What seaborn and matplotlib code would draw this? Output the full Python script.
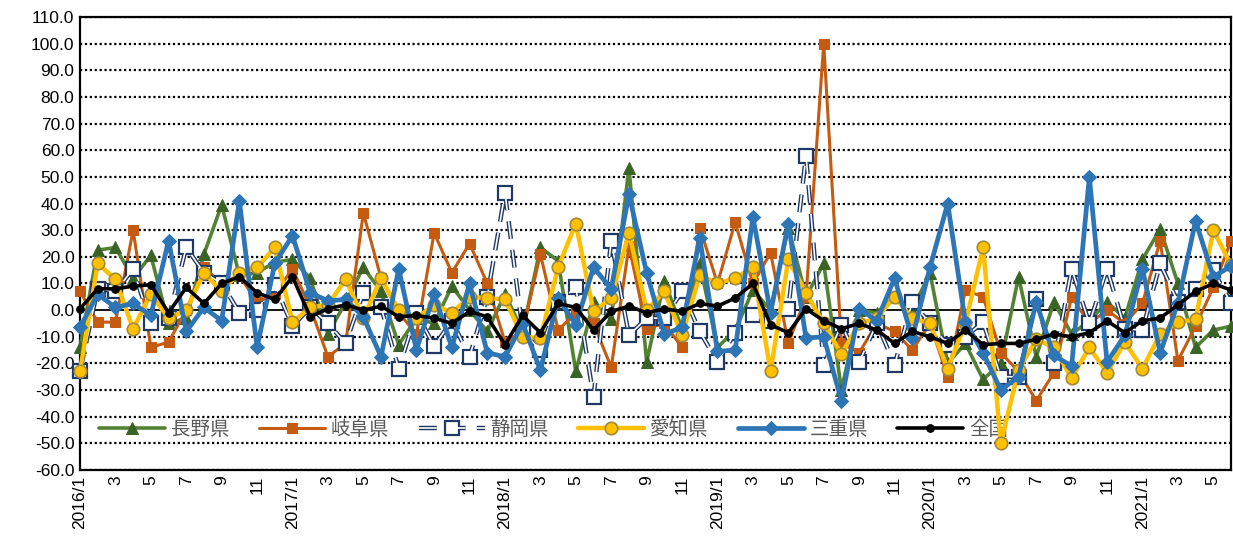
import matplotlib
matplotlib.use("Agg")
import matplotlib.pyplot as plt
from matplotlib.legend_handler import HandlerTuple
import seaborn as sns
import numpy as np
import pandas as pd

# 2016/1 .. 2021/6 (66 months)
months = [f"{2016 + i // 12}/{i % 12 + 1}" for i in range(66)]
tick_labels = [m if m.endswith("/1") else m.split("/")[1] for m in months]

nagano = [-14, 22.5, 23.5, 12, 20.5, -5, -3, 21, 39.5, 13, 14, 18,
          19, 12, -9, 3, 16, 7, -13, -3, -5, 9, 0, -8,
          6, -8, 23.5, 18.5, -23, 3, -3.5, 53.5, -19.5, 11, -7, 17.5,
          -14, -7.5, 7.5, 0, 31, 5, 17.5, -30, 0, -1, 5, 0,
          14, -20, -12.5, -26, -20, 12.5, -17.5, 3, -9, -4, 3, -3,
          19, 30.5, 10, -14, -7.5, -6]
gifu = [7, -4.5, -4.5, 30, -14, -12, 0, 16, 10, 13, 3, 6,
        15.5, 1, -17.5, -12.5, 36.5, 12, -1, -9, 29, 14, 25, 10,
        -12, -8, 21, -7.5, -1, -5, -21.5, 24, -7, -5, -14, 31,
        10, 33, 10, 21.5, -12.5, 5, 100, -12.5, -16, -5, -8, -15,
        -5, -25, 7.5, 5, -16, -23, -34, -23.5, 5, -5, 0, -5,
        2.5, 26, -19, -6, 8.5, 26]
shizuoka = [-23, 8, 7, 15.5, -5, -3, 23.5, 14, 10, -1, 0, 9.5,
            -6, 1, -5, -12.5, 6.5, 1, -22, -1, -13.5, -4, -17.5, 5,
            44, -8, -15, 3, 8.5, -32.5, 26, -9.5, -3, -3, 7, -8,
            -19.5, -8.5, -2, -4, 0.5, 58, -20.5, -5.5, -19.5, -5, -20.5, 3,
            -5, -13, -10, -4.5, -25, -25, 4, -20, 15.5, -5, 15.5, -7,
            -7.5, 17.5, 3, 8, 15, 2.5]
aichi = [-23, 17.5, 11.5, -7, 6, -3, 0, 14, 7, 14, 16, 23.5,
         -4.5, 1, 2, 11.5, -3, 12, 0, -3, 2, -1, 5, 4.5,
         4, -10, -10.5, 16, 32.5, -0.5, 4.5, 29, 0, 7, -9.5, 13,
         10, 12, 16, -23, 19, 6.5, -5, -16.5, -5, -3, 5, -3,
         -5, -22, -5, 23.5, -50, -22.5, -11, -14, -25.5, -14, -23.5, -12,
         -22, -9, -4.5, -3.5, 30, 17]
mie = [-6.5, 6, 1, 2.5, -2, 26, -8, 1, -4, 41, -14, 17.5,
       28, 6.5, 3.5, 4, -2.5, -17.5, 15.5, -15, 6, -14, 10, -16,
       -17.5, -5, -22.5, 4.5, -5.5, 16, 8, 43.5, 14, -9, -6.5, 27,
       -15.5, -15, 35, -1, 32.5, -10.5, -10, -34, 0.5, -4, 12, -10.5,
       16, 40, -4.5, -16, -30, -25, 3, -17, -21, 50, -19.5, -9.5,
       15.5, -16, 2.5, 33.5, 12.5, 16.5]
zenkoku = [0.5, 8, 8, 9, 9.5, -1, 8.5, 2.5, 10, 12.5, 6.5, 4,
           12.5, -2.5, 0.5, 2, 0, 1.5, -2.5, -2, -3, -5, -0.5, -2.5,
           -13, -2, -8.5, 2.5, 1, -7.5, -0.5, 1.5, -1, 0.5, -0.5, 2.5,
           1.5, 4.5, 10, -5.5, -8.5, 0.5, -4, -7, -5, -7.5, -12.5, -8,
           -10, -12.5, -7.5, -13, -12.5, -12.5, -11, -9, -10, -8.5, -4, -8.5,
           -4, -3, 2, 7, 10, 7.5]

df = pd.DataFrame({"idx": np.arange(len(months)), "month": months,
                   "長野県": nagano, "岐阜県": gifu, "静岡県": shizuoka,
                   "愛知県": aichi, "三重県": mie, "全国": zenkoku})

sns.set_theme(style="white")
plt.rcParams["font.family"] = ["Liberation Sans", "Noto Sans CJK JP", "DejaVu Sans"]

fig = plt.figure(figsize=(12.33, 5.47), dpi=100)
ax = fig.add_axes([80 / 1233, 1 - 470 / 547, 1151 / 1233, 453 / 547])

# gridlines and zero line
for v in range(-60, 111, 10):
    if v == 0:
        ax.axhline(0, color="black", lw=1.3, zorder=1)
    else:
        ax.axhline(v, color="black", lw=1.6, ls=(0, (1, 1.2)), zorder=1)

sns.lineplot(data=df, x="idx", y="長野県", ax=ax, color="#548235", lw=2.6,
             marker="^", markersize=9, markerfacecolor="#3B6326",
             markeredgecolor="#3B6326", label="長野県", clip_on=False, zorder=3)
sns.lineplot(data=df, x="idx", y="岐阜県", ax=ax, color="#C55A11", lw=2.2,
             marker="s", markersize=7, markerfacecolor="#C55A11",
             markeredgecolor="#C55A11", label="岐阜県", clip_on=False, zorder=4)
sns.lineplot(data=df, x="idx", y="静岡県", ax=ax, color="#1F3864", lw=3.2,
             linestyle=(0, (4, 2.5)), marker="s", markersize=10,
             markerfacecolor="white", markeredgecolor="#1F3864",
             markeredgewidth=1.6, label="静岡県", clip_on=False, zorder=5)
# white core inside the navy dashes
white_dash = (0, (4 * 3.2 / 1.2, 2.5 * 3.2 / 1.2))
ax.plot(df["idx"], df["静岡県"], color="white", lw=1.2, linestyle=white_dash,
        zorder=5.1, clip_on=False)
sns.lineplot(data=df, x="idx", y="愛知県", ax=ax, color="#FFC000", lw=3.2,
             marker="o", markersize=9, markerfacecolor="#FFC000",
             markeredgecolor="#A08A3C", markeredgewidth=1.2, label="愛知県",
             clip_on=False, zorder=6)
sns.lineplot(data=df, x="idx", y="三重県", ax=ax, color="#2E75B6", lw=3.4,
             marker="D", markersize=7, markerfacecolor="#2E75B6",
             markeredgecolor="#2E75B6", label="三重県", clip_on=False, zorder=7)
sns.lineplot(data=df, x="idx", y="全国", ax=ax, color="black", lw=2.6,
             marker="o", markersize=5.5, markerfacecolor="black",
             markeredgecolor="black", label="全国", clip_on=False, zorder=8)

ax.set_xlim(0, len(months) - 1)
ax.set_ylim(-60, 110)
ax.set_yticks(range(-60, 111, 10))
ax.set_yticklabels([f"{v:.1f}" for v in range(-60, 111, 10)], fontsize=12.5)
ax.set_xticks(df["idx"][::2])
ax.set_xticklabels(tick_labels[::2], rotation=90, fontsize=12.5)
ax.tick_params(axis="both", length=0, pad=4, colors="black")
ax.set_xlabel("")
ax.set_ylabel("")
for s in ax.spines.values():
    s.set_color("black")
    s.set_linewidth(1.6)

handles, labels = ax.get_legend_handles_labels()
navy_white = plt.Line2D([], [], color="white", lw=1.2, linestyle=white_dash)
handles = list(handles)
i_s = labels.index("静岡県")
handles[i_s] = (handles[i_s], navy_white)
leg = ax.legend(handles, labels, loc="center left", bbox_to_anchor=(0.01, 0.09),
                ncol=6, frameon=False, fontsize=14, handlelength=3.4,
                columnspacing=1.5, handletextpad=0.3, borderaxespad=0,
                handler_map={tuple: HandlerTuple(ndivide=1, pad=0)})
for t in leg.get_texts():
    t.set_color("#595959")

fig.savefig("out.png", dpi=100)
